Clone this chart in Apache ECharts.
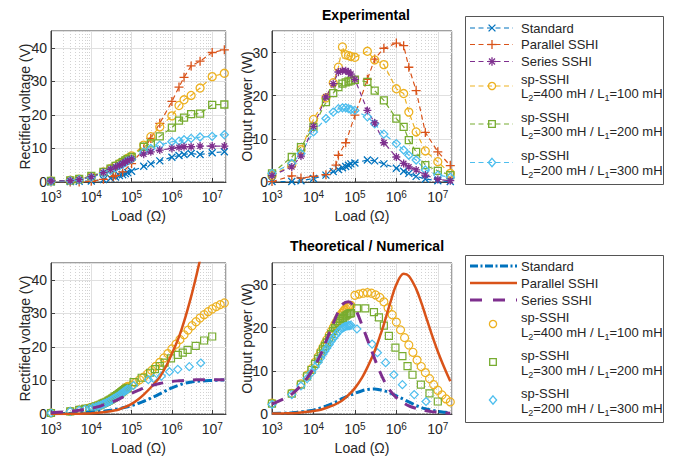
<!DOCTYPE html>
<html><head><meta charset="utf-8">
<script src="https://cdn.jsdelivr.net/npm/echarts@6/dist/echarts.min.js"></script>
<style>html,body{margin:0;padding:0;background:#fff}#c{width:679px;height:462px}</style>
</head><body><div id="c"></div>
<script>
// ---------------- DATA ----------------
// Experimental loads (Ohm)
const LOAD_EXP = [1e3,3e3,5e3,1e4,2e4,3e4,4e4,5e4,6e4,7e4,8e4,1e5,2e5,3e5,5e5,1e6,1.5e6,2e6,3e6,5e6,1e7,2e7];
const LOAD_EXP_PAR = [1e3,3e3,5e3,1e4,2e4,3.5e4,4e4,6e4,1e5,2e5,3e5,5e5,1e6,1.5e6,2e6,3e6,5e6,1e7,2e7];
// Experimental rectified voltage (V)
const EXP_V_STD = [0,0.1,0.2,0.3,0.7,1.1,1.5,1.9,2.2,2.5,2.8,3.2,4.7,5.4,6.3,7.4,7.9,8.2,8.5,8.2,8.7,9.0];
const EXP_V_PAR = [0,0,0,0.2,0.8,1.6,2.0,3.0,5.5,9.8,13,17.5,24,28.3,31.2,34.6,36,38.6,39.4];
const EXP_V_SER = [0.3,0.4,0.7,1.6,2.8,3.8,4.5,5.0,5.5,6.0,6.4,6.9,8.3,9.0,9.5,10,10.3,10.5,10.5,10.7,10.7,10.7];
const EXP_V_SP1 = [0.3,0.5,0.8,1.6,3.0,4.0,4.8,5.5,6.0,6.6,7.1,7.8,11,13.5,16.4,19.7,22.8,24.5,25.8,28,31.4,32.4];
const EXP_V_SP2 = [0.3,0.5,0.9,1.8,3.0,4.0,4.8,5.4,5.9,6.4,6.9,7.5,10.5,11.5,13.6,16.2,18.3,19.2,20.2,20.4,23,23.1];
const EXP_V_SP3 = [0.2,0.4,0.7,1.4,2.6,3.5,4.2,4.8,5.3,5.8,6.3,6.8,9,10,11,12,12.2,12.6,13,13.4,13.6,14.1];
// Experimental output power (W)
const EXP_P_STD = [0.1,0.1,0.3,0.8,1.6,2.4,2.9,3.3,3.6,3.9,4.2,4.4,5.1,4.9,4.2,3.2,2.5,2.0,1.3,0.7,0.3,0.1];
const EXP_P_PAR = [0.1,1.4,0.9,1.3,1.7,3.9,6.2,9.1,15.5,23.8,28.5,31,32.2,31.6,26.6,21.2,11.5,7.0,3.8];
const EXP_P_SER = [1.5,3.5,6,12.9,19.7,22.8,25.5,25.8,25.8,25.5,25,23.8,16.6,13.7,9.1,5.8,4.3,3.5,2.8,1.6,0.6,0.3];
const EXP_P_SP1 = [1.5,4,7.5,14.5,19.5,23,26.6,31.3,29.5,29.3,29.1,28.9,30.3,28.3,27.2,21.6,20.5,16.2,11.6,7.2,4.7,2.0];
const EXP_P_SP2 = [2,5.8,8.1,12.8,18.5,20.6,22,22.8,23.1,23.3,23.5,23.7,23.2,21.2,18.9,14.7,12.8,9.7,7,3.9,2.6,1.6];
const EXP_P_SP3 = [2,4.3,6.6,11.6,14.7,16.2,17,17.2,17.2,17,16.8,16.6,15.1,13.5,11.1,8.9,7.4,6.2,5.1,2.8,1.6,1.1];

// Theoretical curves
const LOAD_TH = [1e3,2e3,3e3,5e3,7e3,1e4,1.5e4,2e4,3e4,4e4,5e4,7e4,1e5,1.5e5,2e5,3e5,4e5,5e5,7e5,1e6,1.5e6,2e6,3e6,4e6,5e6,7e6,1e7,1.5e7,2e7];
const TH_V_STD = [0.1,0.15,0.2,0.3,0.4,0.5,0.7,0.8,1.1,1.4,1.6,2.0,2.5,3.2,3.8,4.7,5.4,6.0,6.9,7.8,8.6,9.1,9.5,9.7,9.8,9.9,10,10.1,10.1];
const TH_V_PAR = [0,0.02,0.05,0.1,0.15,0.25,0.4,0.5,0.8,1.1,1.4,2.1,3.0,4.5,5.8,7.9,9.6,11,14,18,23,27.5,35,41,46];
const TH_V_SER = [0.4,0.6,0.8,1.1,1.4,1.7,2.2,2.7,3.4,4.0,4.5,5.4,6.2,7.1,7.7,8.4,8.8,9.1,9.4,9.7,9.9,10,10.1,10.2,10.2,10.2,10.2,10.2,10.2];
const TH_P_STD = [0.1,0.2,0.3,0.5,0.7,0.9,1.4,1.8,2.5,3.1,3.6,4.2,4.8,5.4,5.7,5.8,5.6,5.4,4.9,4.2,3.4,2.8,2.0,1.5,1.2,0.9,0.6,0.4,0.3];
const TH_P_PAR = [0.1,0.15,0.2,0.35,0.5,0.7,1.0,1.4,2.0,2.6,3.2,4.4,6.0,8.5,10.8,14.6,18,20.8,25.5,30,32.5,32,29,25.8,23,18.7,14.5,10.3,7.6];
const TH_P_SER = [2.3,3.6,4.6,6.6,8.3,10.6,13.8,16.8,21,23.8,25.4,26,24.5,20.5,17.3,12.8,9.8,7.8,5.5,3.8,2.6,1.9,1.3,1.0,0.8,0.55,0.4,0.25,0.2];

// Numerical sp-SSHI points: low-load cluster
const LOAD_SP_A = [1e3,3e3,5e3,7e3,9e3,1.1e4,1.3e4,1.5e4,1.7e4,1.9e4,2.1e4,2.4e4,2.7e4,3e4,3.3e4,3.6e4,4e4,4.4e4,4.8e4,5.2e4,5.6e4,6e4,6.5e4,7e4,7.5e4,8e4];
const TH_V_SP1_A = [0.3,0.8,1.2,1.5,1.8,2.1,2.4,2.6,2.9,3.2,3.4,3.8,4.1,4.5,4.8,5.1,5.5,5.8,6.2,6.5,6.8,7.1,7.5,7.8,8.0,8.2];
const TH_V_SP2_A = [0.3,0.8,1.2,1.5,1.7,2.0,2.3,2.5,2.8,3.1,3.3,3.6,4.0,4.3,4.6,4.9,5.3,5.6,5.9,6.2,6.5,6.8,7.1,7.4,7.6,7.8];
const TH_V_SP3_A = [0.3,0.8,1.1,1.4,1.6,1.9,2.1,2.4,2.6,2.9,3.1,3.4,3.7,4.0,4.3,4.6,4.9,5.2,5.5,5.8,6.1,6.4,6.7,7.0,7.2,7.4];
const TH_P_SP1_A = [2.5,4.8,7,9,10.5,12,13.3,14.5,15.5,16.4,17.2,18.3,19.2,20,20.8,21.4,22.2,22.8,23.3,23.7,24.1,24.4,24.7,25,25.1,25.2];
const TH_P_SP2_A = [2.4,4.7,6.8,8.7,10.2,11.6,12.8,14,15,15.8,16.6,17.6,18.5,19.2,19.9,20.4,21.1,21.6,22,22.3,22.6,22.8,23,23.2,23.3,23.4];
const TH_P_SP3_A = [2.2,4.5,6.5,8.2,9.6,10.9,12,13,13.9,14.6,15.3,16.1,16.9,17.5,18.1,18.5,19.1,19.5,19.8,20,20.2,20.3,20.4,20.5,20.5,20.6];
// Numerical sp-SSHI points: high-load branch
const LOAD_SP1_B = [1e5,1.26e5,1.58e5,2e5,2.51e5,3.16e5,3.98e5,5.01e5,6.31e5,7.94e5,1e6,1.26e6,1.58e6,2e6,2.51e6,3.16e6,3.98e6,5.01e6,6.31e6,7.94e6,1e7,1.26e7,1.58e7,2e7];
const TH_V_SP1_B = [8.6,9.4,10.2,11.0,12.0,13.0,14.2,15.4,16.7,18.0,19.4,20.8,22.2,23.6,25,26.3,27.5,28.6,29.6,30.5,31.3,32,32.6,33.1];
const TH_P_SP1_B = [27.5,27.8,28,28.1,28,27.6,27,26,24.6,23,21.3,19.5,17.7,16,14.3,12.5,11,9.6,8.2,6.8,5.5,4.4,3.5,2.8];
const LOAD_SP2_B = [1.12e5,1.78e5,2.88e5,3.8e5,5e5,6.6e5,9.5e5,1.4e6,1.86e6,2.45e6,3.9e6,6.3e6,1e7];
const TH_V_SP2_B = [9.5,10.8,12.3,13.4,14.3,15.3,16.6,17.6,18.3,19.1,20.3,21.9,23.1];
const TH_P_SP2_B = [24.5,24.5,23.6,22.4,20.5,18.1,15.4,13.4,11.1,9.1,6.8,4.8,2.9];
const LOAD_SP3_B = [1.12e5,2.6e5,3.5e5,5.5e5,8.7e5,1.4e6,2.7e6,5.2e6];
const TH_V_SP3_B = [8.5,10.2,10.6,11.3,12.6,13.3,14.1,15.2];
const TH_P_SP3_B = [19.7,16.2,14.2,11.9,9.1,6.8,4.5,2.9];

// ---------------- STYLE / LAYOUT ----------------
const FONT = '"Liberation Sans", Arial, Helvetica, sans-serif';
const TXT = '#262626';
const COL = {std:'#0072BD', par:'#D95319', ser:'#7E2F8E', sp1:'#EDB120', sp2:'#77AC30', sp3:'#4DBEEE'};
const SYM = {
  x: 'path://M0,0L10,10M10,0L0,10',
  plus: 'path://M5,0L5,10M0,5L10,5',
  star: 'path://M5,0L5,10M0,5L10,5M1.6,1.6L8.4,8.4M8.4,1.6L1.6,8.4',
  circle: 'circle', rect: 'rect', diamond: 'diamond'
};
const GRIDS = [
  {left:51, top:31, width:175, height:151},
  {left:272, top:31, width:180, height:151},
  {left:51, top:263, width:175, height:151},
  {left:272, top:263, width:180, height:151}
];
const XMIN = 1e3, XMAX = 2.2e7;

const minorLines = [];
for (let d = 1e3; d <= 1e7; d *= 10) for (let k = 2; k <= 9; k++) if (k*d < XMAX) minorLines.push(k*d);

function pairs(loads, vals) { return vals.map((v,i)=>[loads[i], v]); }

function xAxis(i) {
  return {
    type:'log', logBase:10, gridIndex:i, min:XMIN, max:XMAX,
    name:'Load (\u03A9)', nameLocation:'middle', nameGap:27, nameMoveOverlap:false,
    nameTextStyle:{fontFamily:FONT, fontSize:14, color:TXT},
    axisLine:{show:true, onZero:false, lineStyle:{color:'#404040', width:1}},
    axisTick:{show:true, inside:true, length:4, lineStyle:{color:'#404040'}},
    splitLine:{show:true, lineStyle:{color:'#e0e0e0', width:1}},
    axisLabel:{
      show:true, margin:7, color:TXT, fontFamily:FONT, fontSize:14, showMaxLabel:false,
      formatter: v => { const e = Math.round(Math.log10(v)); return Math.abs(Math.log10(v)-e) < 1e-6 ? '10{s|' + e + '}' : ''; },
      rich:{ s:{fontSize:10, fontFamily:FONT, color:TXT, verticalAlign:'top', padding:[0,0,6,0]} }
    }
  };
}
function yAxis(i, name, max, gap) {
  return {
    type:'value', gridIndex:i, min:0, max:max, interval:10,
    name:name, nameLocation:'middle', nameGap:gap, nameMoveOverlap:false,
    nameTextStyle:{fontFamily:FONT, fontSize:14, color:TXT},
    axisLine:{show:true, lineStyle:{color:'#404040', width:1}},
    axisTick:{show:true, inside:true, length:4, lineStyle:{color:'#404040'}},
    splitLine:{show:true, lineStyle:{color:'#e0e0e0', width:1}},
    axisLabel:{margin:4, color:TXT, fontFamily:FONT, fontSize:14, showMaxLabel:false}
  };
}

function expSeries(g, loads, vals, color, sym, size, z) {
  return {type:'line', xAxisIndex:g, yAxisIndex:g, data:pairs(loads, vals),
    symbol:sym, symbolSize:size, showSymbol:true, showAllSymbol:true, z:z||3,
    lineStyle:{color:color, width:1.2, type:[5,3.5]},
    itemStyle:{color:'rgba(0,0,0,0)', borderColor:color, borderWidth:1.3},
    emphasis:{disabled:true}, silent:true, animation:false, clip:true};
}
function thLine(g, loads, vals, color, width, dash, z) {
  return {type:'line', xAxisIndex:g, yAxisIndex:g, data:pairs(loads, vals),
    showSymbol:false, symbol:'none', smooth:0.35, z:z||3,
    lineStyle:{color:color, width:width, type:dash},
    emphasis:{disabled:true}, silent:true, animation:false, clip:true};
}
function thMarks(g, loads, vals, color, sym, size, z) {
  return {type:'scatter', xAxisIndex:g, yAxisIndex:g, data:pairs(loads, vals),
    symbol:sym, symbolSize:size, z:z||4,
    itemStyle:{color:'rgba(0,0,0,0)', borderColor:color, borderWidth:1.2, opacity:1},
    emphasis:{disabled:true}, silent:true, animation:false, clip:true};
}
function minorGrid(g) {
  return {type:'line', xAxisIndex:g, yAxisIndex:g, data:[], silent:true, animation:false,
    markLine:{silent:true, symbol:'none', animation:false, z:1, label:{show:false},
      lineStyle:{color:'#d2d2d2', type:[1,2], width:1},
      emphasis:{disabled:true},
      data:minorLines.map(v=>({xAxis:v}))}};
}

const DASH_STD_TH = [9,3,2.5,3];
const DASH_SER_TH = [12,9];

const series = [];
for (let g = 0; g < 4; g++) series.push(minorGrid(g));
// Top-left experimental voltage
series.push(expSeries(0, LOAD_EXP, EXP_V_STD, COL.std, SYM.x, 7));
series.push(expSeries(0, LOAD_EXP_PAR, EXP_V_PAR, COL.par, SYM.plus, 9));
series.push(expSeries(0, LOAD_EXP, EXP_V_SP1, COL.sp1, SYM.circle, 8));
series.push(expSeries(0, LOAD_EXP, EXP_V_SP2, COL.sp2, SYM.rect, 7));
series.push(expSeries(0, LOAD_EXP, EXP_V_SP3, COL.sp3, SYM.diamond, 8));
series.push(expSeries(0, LOAD_EXP, EXP_V_SER, COL.ser, SYM.star, 8));
// Top-right experimental power
series.push(expSeries(1, LOAD_EXP, EXP_P_STD, COL.std, SYM.x, 7));
series.push(expSeries(1, LOAD_EXP_PAR, EXP_P_PAR, COL.par, SYM.plus, 9));
series.push(expSeries(1, LOAD_EXP, EXP_P_SP1, COL.sp1, SYM.circle, 8));
series.push(expSeries(1, LOAD_EXP, EXP_P_SP2, COL.sp2, SYM.rect, 7));
series.push(expSeries(1, LOAD_EXP, EXP_P_SP3, COL.sp3, SYM.diamond, 8));
series.push(expSeries(1, LOAD_EXP, EXP_P_SER, COL.ser, SYM.star, 8));
// Bottom-left theoretical voltage
series.push(thMarks(2, LOAD_SP_A, TH_V_SP1_A, COL.sp1, SYM.circle, 8));
series.push(thMarks(2, LOAD_SP1_B, TH_V_SP1_B, COL.sp1, SYM.circle, 8));
series.push(thMarks(2, LOAD_SP_A, TH_V_SP2_A, COL.sp2, SYM.rect, 7));
series.push(thMarks(2, LOAD_SP2_B, TH_V_SP2_B, COL.sp2, SYM.rect, 7));
series.push(thMarks(2, LOAD_SP_A, TH_V_SP3_A, COL.sp3, SYM.diamond, 8));
series.push(thMarks(2, LOAD_SP3_B, TH_V_SP3_B, COL.sp3, SYM.diamond, 8));
series.push(thLine(2, LOAD_TH, TH_V_STD, COL.std, 3, DASH_STD_TH, 5));
series.push(thLine(2, LOAD_TH, TH_V_PAR, COL.par, 2.5, 'solid', 5));
series.push(thLine(2, LOAD_TH, TH_V_SER, COL.ser, 3, DASH_SER_TH, 5));
// Bottom-right theoretical power
series.push(thMarks(3, LOAD_SP_A, TH_P_SP1_A, COL.sp1, SYM.circle, 8));
series.push(thMarks(3, LOAD_SP1_B, TH_P_SP1_B, COL.sp1, SYM.circle, 8));
series.push(thMarks(3, LOAD_SP_A, TH_P_SP2_A, COL.sp2, SYM.rect, 7));
series.push(thMarks(3, LOAD_SP2_B, TH_P_SP2_B, COL.sp2, SYM.rect, 7));
series.push(thMarks(3, LOAD_SP_A, TH_P_SP3_A, COL.sp3, SYM.diamond, 8));
series.push(thMarks(3, LOAD_SP3_B, TH_P_SP3_B, COL.sp3, SYM.diamond, 8));
series.push(thLine(3, LOAD_TH, TH_P_STD, COL.std, 3, DASH_STD_TH, 5));
series.push(thLine(3, LOAD_TH, TH_P_PAR, COL.par, 2.5, 'solid', 5));
series.push(thLine(3, LOAD_TH, TH_P_SER, COL.ser, 3, DASH_SER_TH, 5));

// ---------------- LEGENDS (drawn as graphics) ----------------
function markerEls(kind, cx, cy, color) {
  const st = {stroke:color, lineWidth:1.3, fill:'none'};
  if (kind === 'circle') return [{type:'circle', shape:{cx, cy, r:3.6}, style:st}];
  if (kind === 'rect') return [{type:'rect', shape:{x:cx-3.3, y:cy-3.3, width:6.6, height:6.6}, style:st}];
  if (kind === 'diamond') return [{type:'polygon', shape:{points:[[cx,cy-4.2],[cx+3.6,cy],[cx,cy+4.2],[cx-3.6,cy]]}, style:st}];
  const segs = [];
  if (kind === 'x' || kind === 'star') { const a = kind==='x'?3.4:3; segs.push([cx-a,cy-a,cx+a,cy+a],[cx+a,cy-a,cx-a,cy+a]); }
  if (kind === 'plus' || kind === 'star') { const a = kind==='plus'?4.5:4.2; segs.push([cx-a,cy,cx+a,cy],[cx,cy-a,cx,cy+a]); }
  return segs.map(s=>({type:'line', shape:{x1:s[0],y1:s[1],x2:s[2],y2:s[3]}, style:{stroke:color, lineWidth:1.3}}));
}
function textEl(x, y, text) {
  return {type:'text', x:x, y:y, silent:true, style:{text:text, fill:TXT, font:'13px ' + FONT, textVerticalAlign:'middle', textAlign:'left',
    rich:{s:{fontSize:9, fontFamily:FONT, fill:TXT, verticalAlign:'bottom', lineHeight:19}, n:{fontSize:13, fontFamily:FONT, fill:TXT, lineHeight:19}}}};
}
function lineEl(x1, x2, y, color, width, dash) {
  return {type:'line', shape:{x1, y1:y, x2, y2:y}, silent:true, style:{stroke:color, lineWidth:width, lineDash:dash}};
}
const LEG_LABELS = ['Standard', 'Parallel SSHI', 'Series SSHI', 'sp-SSHI', 'sp-SSHI', 'sp-SSHI'];
const LEG_SUB = ['{n|L}{s|2}{n|=400 mH / L}{s|1}{n|=100 mH}', '{n|L}{s|2}{n|=300 mH / L}{s|1}{n|=200 mH}', '{n|L}{s|2}{n|=200 mH / L}{s|1}{n|=300 mH}'];

const graphics = [];
// Top legend
graphics.push({type:'rect', shape:{x:465.5, y:16.5, width:198, height:168}, silent:true, style:{fill:'#fff', stroke:'#555', lineWidth:1}});
const topY = [28, 44.5, 61.5];
const topKinds = [['std','x'],['par','plus'],['ser','star']];
topKinds.forEach((k,i)=>{
  graphics.push(lineEl(470, 513, topY[i], COL[k[0]], 1.2, [5,3.5]));
  markerEls(k[1], 492, topY[i], COL[k[0]]).forEach(e=>graphics.push(e));
  graphics.push(textEl(521, topY[i], LEG_LABELS[i]));
});
const topSp = [[79, 93, 'sp1', 'circle'], [117, 131, 'sp2', 'rect'], [155, 170, 'sp3', 'diamond']];
topSp.forEach((s,i)=>{
  const my = (s[0]+s[1])/2;
  graphics.push(lineEl(470, 513, my, COL[s[2]], 1.2, [5,3.5]));
  markerEls(s[3], 492, my, COL[s[2]]).forEach(e=>graphics.push(e));
  graphics.push(textEl(521, s[0], 'sp-SSHI'));
  graphics.push(textEl(521, s[1], LEG_SUB[i]));
});
// Bottom legend
graphics.push({type:'rect', shape:{x:465.5, y:255.5, width:198, height:167}, silent:true, style:{fill:'#fff', stroke:'#555', lineWidth:1}});
graphics.push(lineEl(470, 517, 266, COL.std, 3, [8,2.5,2,2.5]));
graphics.push(textEl(521, 266, 'Standard'));
graphics.push(lineEl(470, 517, 283, COL.par, 2.5, null));
graphics.push(textEl(521, 283, 'Parallel SSHI'));
graphics.push(lineEl(470, 517, 300, COL.ser, 3, [12,11]));
graphics.push(textEl(521, 300, 'Series SSHI'));
const botSp = [[317, 332, 'sp1', 'circle'], [355, 370, 'sp2', 'rect'], [393, 408, 'sp3', 'diamond']];
botSp.forEach((s,i)=>{
  const my = (s[0]+s[1])/2 - 0.5;
  markerEls(s[3], 493, my, COL[s[2]]).forEach(e=>graphics.push(e));
  graphics.push(textEl(521, s[0], 'sp-SSHI'));
  graphics.push(textEl(521, s[1], LEG_SUB[i]));
});

const chart = echarts.init(document.getElementById('c'), null, {renderer:'svg'});
chart.setOption({
  animation:false,
  backgroundColor:'#fff',
  title:[
    {text:'Experimental', left:361, top:3, textAlign:'center', textStyle:{fontFamily:FONT, fontSize:14, fontWeight:'bold', color:'#000'}},
    {text:'Theoretical / Numerical', left:362, top:234, textAlign:'center', textStyle:{fontFamily:FONT, fontSize:14, fontWeight:'bold', color:'#000'}}
  ],
  grid:GRIDS.map(g=>Object.assign({show:true, borderColor:'#404040', borderWidth:1, backgroundColor:'#fff', containLabel:false}, g)),
  xAxis:[xAxis(0), xAxis(1), xAxis(2), xAxis(3)],
  yAxis:[yAxis(0,'Rectified voltage (V)',45,19), yAxis(1,'Output power (W)',35,18), yAxis(2,'Rectified voltage (V)',45,19), yAxis(3,'Output power (W)',35,18)],
  series:series,
  graphic:graphics
});
</script></body></html>
